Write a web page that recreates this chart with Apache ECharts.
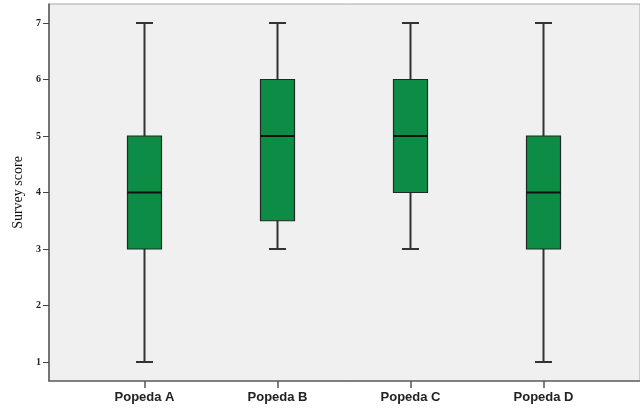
<!DOCTYPE html>
<html><head><meta charset="utf-8">
<script src="https://cdn.jsdelivr.net/npm/echarts@6/dist/echarts.min.js"></script>
<style>html,body{margin:0;padding:0;background:#fff}#c{width:640px;height:410px}</style>
</head><body><div id="c"></div>
<script>
var categories = ['Popeda A', 'Popeda B', 'Popeda C', 'Popeda D'];
var whiskerLow = [1, 3, 3, 1];
var q1 = [3, 3.5, 4, 3];
var median = [4, 5, 5, 4];
var q3 = [5, 6, 6, 5];
var whiskerHigh = [7, 7, 7, 7];
var yTicks = [1, 2, 3, 4, 5, 6, 7];

var data = categories.map(function (c, i) {
  return [i, whiskerLow[i], q1[i], median[i], q3[i], whiskerHigh[i]];
});

var chart = echarts.init(document.getElementById('c'), null, {renderer: 'canvas'});
chart.setOption({
  animation: false,
  grid: [
    {left: 49, right: 0, top: 4, bottom: 29, show: true, backgroundColor: '#f0f0f0', borderColor: '#a8a8a8', borderWidth: 1},
    {left: 78, right: 30, top: 23, bottom: 48}
  ],
  xAxis: [
    {gridIndex: 0, type: 'value', min: 0, max: 1, axisLine: {show: true, lineStyle: {color: '#666', width: 1.5}}, axisTick: {show: false}, axisLabel: {show: false}, splitLine: {show: false}},
    {gridIndex: 1, type: 'category', data: categories, offset: 19,
     axisLine: {show: false}, axisTick: {show: true, alignWithLabel: true, length: 7, lineStyle: {color: '#555', width: 1.5}},
     axisLabel: {color: '#222', fontFamily: 'Liberation Sans, Arial, sans-serif', fontWeight: 'bold', fontSize: 13, margin: 10},
     splitLine: {show: false}}
  ],
  yAxis: [
    {gridIndex: 0, type: 'value', min: 0, max: 1, axisLine: {show: true, lineStyle: {color: '#555', width: 1.5}}, axisTick: {show: false}, axisLabel: {show: false}, splitLine: {show: false}},
    {gridIndex: 1, type: 'value', min: 1, max: 7, interval: 1, offset: 29,
     axisLine: {show: false}, axisTick: {show: true, length: 6, lineStyle: {color: '#444', width: 1}},
     axisLabel: {color: '#222', fontFamily: 'Liberation Serif, Times New Roman, serif', fontWeight: 'bold', fontSize: 10, margin: 8,
       formatter: function (v) { return yTicks.indexOf(v) >= 0 ? String(v) : ''; }},
     splitLine: {show: false},
     name: 'Survey score', nameLocation: 'middle', nameGap: 24, nameRotate: 90,
     nameTextStyle: {color: '#111', fontFamily: 'Liberation Serif, Times New Roman, serif', fontSize: 14}}
  ],
  series: [{
    type: 'custom',
    xAxisIndex: 1, yAxisIndex: 1,
    clip: false,
    data: data,
    renderItem: function (params, api) {
      var x = api.value(0);
      var pLow = api.coord([x, api.value(1)]);
      var pQ1 = api.coord([x, api.value(2)]);
      var pMed = api.coord([x, api.value(3)]);
      var pQ3 = api.coord([x, api.value(4)]);
      var pHigh = api.coord([x, api.value(5)]);
      var bw = 34, cw = 17, cx = pMed[0];
      var lineStyle = {stroke: '#333', lineWidth: 2};
      return {
        type: 'group',
        children: [
          {type: 'line', shape: {x1: cx, y1: pHigh[1], x2: cx, y2: pQ3[1]}, style: lineStyle},
          {type: 'line', shape: {x1: cx, y1: pQ1[1], x2: cx, y2: pLow[1]}, style: lineStyle},
          {type: 'line', shape: {x1: cx - cw / 2, y1: pHigh[1], x2: cx + cw / 2, y2: pHigh[1]}, style: lineStyle},
          {type: 'line', shape: {x1: cx - cw / 2, y1: pLow[1], x2: cx + cw / 2, y2: pLow[1]}, style: lineStyle},
          {type: 'rect', shape: {x: cx - bw / 2, y: pQ3[1], width: bw, height: pQ1[1] - pQ3[1]}, style: {fill: '#0d8c46', stroke: '#1e2a22', lineWidth: 1.2}},
          {type: 'line', shape: {x1: cx - bw / 2, y1: pMed[1], x2: cx + bw / 2, y2: pMed[1]}, style: {stroke: '#111', lineWidth: 2.2}}
        ]
      };
    }
  }]
});
</script></body></html>
